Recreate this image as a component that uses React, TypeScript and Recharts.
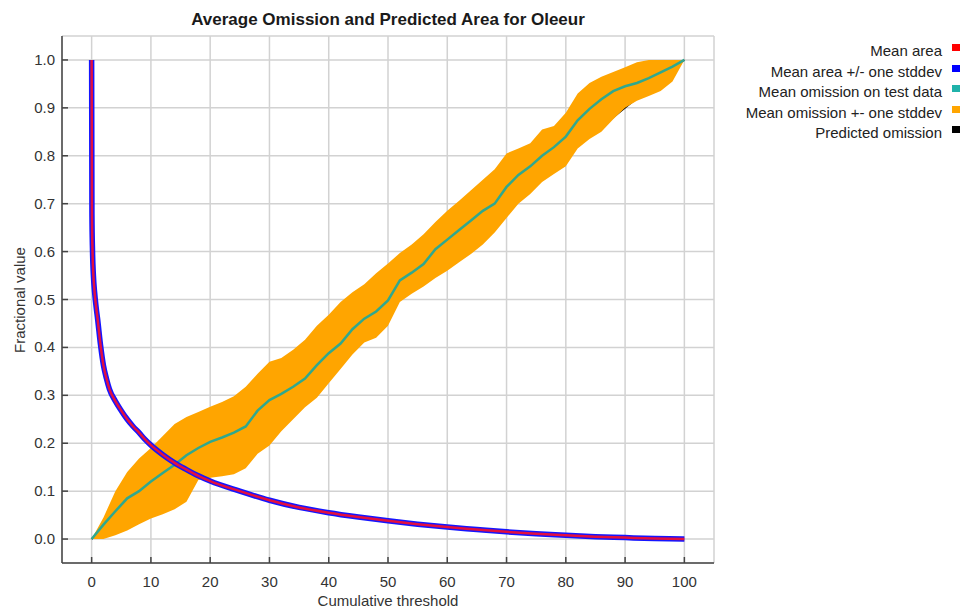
import React from "react";
import { ComposedChart, Line, Area, XAxis, YAxis, CartesianGrid } from "recharts";

const xTicks = [0, 10, 20, 30, 40, 50, 60, 70, 80, 90, 100];
const yTicks = [0, 0.1, 0.2, 0.3, 0.4, 0.5, 0.6, 0.7, 0.8, 0.9, 1.0];

// mean predicted area vs cumulative threshold
const areaThresholds = [
  0, 0.05, 0.15, 0.3, 0.5, 0.75, 1, 1.5, 2, 2.5, 3, 4, 5, 6, 7, 8, 9, 10, 12, 14, 16, 18, 20,
  25, 30, 35, 40, 45, 50, 55, 60, 65, 70, 75, 80, 85, 90, 95, 100,
];
const meanArea = [
  1.0, 0.68, 0.6, 0.55, 0.515, 0.485, 0.46, 0.405, 0.362, 0.335, 0.313, 0.288, 0.268, 0.25,
  0.235, 0.222, 0.208, 0.196, 0.176, 0.159, 0.145, 0.132, 0.121, 0.1, 0.081, 0.066, 0.055,
  0.046, 0.038, 0.031, 0.025, 0.02, 0.015, 0.011, 0.008, 0.005, 0.003, 0.001, 0,
];

// omission on test data, every 2 units of threshold
const omissionThresholds = [
  0, 2, 4, 6, 8, 10, 12, 14, 16, 18, 20, 22, 24, 26, 28, 30, 32, 34, 36, 38, 40, 42, 44, 46,
  48, 50, 52, 54, 56, 58, 60, 62, 64, 66, 68, 70, 72, 74, 76, 78, 80, 82, 84, 86, 88, 90, 92,
  94, 96, 98, 100,
];
const meanOmission = [
  0, 0.03, 0.058, 0.085, 0.1, 0.12, 0.138, 0.155, 0.175, 0.19, 0.203, 0.212, 0.222, 0.235,
  0.268, 0.29, 0.303, 0.318, 0.335, 0.363, 0.388, 0.408, 0.438, 0.46, 0.475, 0.498, 0.54,
  0.556, 0.574, 0.605, 0.625, 0.645, 0.665, 0.685, 0.7, 0.735, 0.76, 0.778, 0.8, 0.818, 0.84,
  0.874, 0.898, 0.918, 0.935, 0.945, 0.952, 0.962, 0.974, 0.986, 1,
];
const omissionHigh = [
  0, 0.045, 0.1, 0.14, 0.168, 0.19, 0.215, 0.24, 0.255, 0.265, 0.276, 0.286, 0.298, 0.318,
  0.345, 0.37, 0.378, 0.395, 0.416, 0.445, 0.468, 0.495, 0.515, 0.532, 0.555, 0.575, 0.597,
  0.615, 0.636, 0.662, 0.685, 0.706, 0.728, 0.75, 0.772, 0.805, 0.815, 0.826, 0.855, 0.862,
  0.89, 0.93, 0.952, 0.965, 0.975, 0.985, 0.995, 1, 1, 1, 1,
];
const omissionLow = [
  0, 0, 0.008, 0.018, 0.031, 0.043, 0.052, 0.062, 0.078, 0.123, 0.128, 0.131, 0.135, 0.148,
  0.178, 0.195, 0.225, 0.25, 0.275, 0.295, 0.325, 0.355, 0.385, 0.41, 0.42, 0.445, 0.495,
  0.512, 0.527, 0.545, 0.56, 0.578, 0.595, 0.615, 0.64, 0.67, 0.7, 0.72, 0.745, 0.762, 0.778,
  0.815, 0.835, 0.85, 0.876, 0.9, 0.915, 0.925, 0.935, 0.955, 1,
];

const predictedThresholds = [0, 100];
const predictedOmission = [0, 1];

const legendLabels = [
  "Mean area",
  "Mean area +/- one stddev",
  "Mean omission on test data",
  "Mean omission +- one stddev",
  "Predicted omission",
];
const legendColors = ["#ff0000", "#0000ff", "#20b2aa", "#ffa500", "#000000"];

const AXIS = "#444";
const TEXT = "#333";
const FONT = "'Liberation Sans', Arial, sans-serif";

type Row = {
  x: number;
  area?: number;
  omission?: number;
  band?: [number, number];
  predicted?: number;
};

const rowMap = new Map<number, Row>();
function at(x: number) {
  let r = rowMap.get(x);
  if (!r) {
    r = { x };
    rowMap.set(x, r);
  }
  return r;
}
areaThresholds.forEach((x, i) => (at(x).area = meanArea[i]));
omissionThresholds.forEach((x, i) => {
  at(x).omission = meanOmission[i];
  at(x).band = [omissionLow[i], omissionHigh[i]];
});
predictedThresholds.forEach((x, i) => (at(x).predicted = predictedOmission[i]));
const rows = [...rowMap.values()].sort((a, b) => a.x - b.x);

function BottomTick({ x, y, payload }: any) {
  return (
    <g>
      <line x1={x} x2={x} y1={y} y2={y - 6} stroke={AXIS} strokeWidth={1.5} />
      <text x={x} y={y + 24} textAnchor="middle" fill={TEXT} fontSize={15} fontFamily={FONT}>
        {payload.value}
      </text>
    </g>
  );
}

function TopTick({ x, y }: any) {
  return <line x1={x} x2={x} y1={y} y2={y + 6} stroke={AXIS} strokeWidth={1.5} />;
}

function LeftTick({ x, y, payload }: any) {
  return (
    <g>
      <line x1={x} x2={x + 6} y1={y} y2={y} stroke={AXIS} strokeWidth={1.5} />
      <text x={x - 7} y={y + 5} textAnchor="end" fill={TEXT} fontSize={15} fontFamily={FONT}>
        {Number(payload.value).toFixed(1)}
      </text>
    </g>
  );
}

function RightTick({ x, y }: any) {
  return <line x1={x} x2={x - 6} y1={y} y2={y} stroke={AXIS} strokeWidth={1.5} />;
}

export default function App() {
  return (
    <div style={{ position: "absolute", left: 0, top: 0, width: 961, height: 609, background: "#fff", fontFamily: FONT }}>
      <div
        style={{
          position: "absolute",
          left: 62,
          width: 652,
          top: 11,
          textAlign: "center",
          fontSize: 17,
          lineHeight: "18px",
          fontWeight: "bold",
          color: "#1a1a1a",
        }}
      >
        Average Omission and Predicted Area for Oleeur
      </div>

      <ComposedChart
        width={961}
        height={609}
        data={rows}
        margin={{ top: 36, right: 247, bottom: 0, left: 0 }}
      >
        <CartesianGrid stroke="#d2d2d2" strokeWidth={1.5} />
        <XAxis
          dataKey="x"
          type="number"
          domain={[-5, 105]}
          ticks={xTicks}
          interval={0}
          height={46}
          tickSize={0}
          tickMargin={0}
          tickLine={false}
          tick={<BottomTick />}
          axisLine={{ stroke: AXIS, strokeWidth: 1.5 }}
          allowDataOverflow
        />
        <XAxis
          xAxisId="top"
          orientation="top"
          dataKey="x"
          type="number"
          domain={[-5, 105]}
          ticks={xTicks}
          interval={0}
          height={0}
          tickSize={0}
          tickMargin={0}
          tickLine={false}
          tick={<TopTick />}
          axisLine={{ stroke: AXIS, strokeWidth: 1.5 }}
          allowDataOverflow
        />
        <YAxis
          type="number"
          domain={[-0.05, 1.05]}
          ticks={yTicks}
          interval={0}
          width={62}
          tickSize={0}
          tickMargin={0}
          tickLine={false}
          tick={<LeftTick />}
          axisLine={{ stroke: AXIS, strokeWidth: 1.5 }}
          allowDataOverflow
        />
        <YAxis
          yAxisId="right"
          orientation="right"
          type="number"
          domain={[-0.05, 1.05]}
          ticks={yTicks}
          interval={0}
          width={0}
          tickSize={0}
          tickMargin={0}
          tickLine={false}
          tick={<RightTick />}
          axisLine={{ stroke: AXIS, strokeWidth: 1.5 }}
          allowDataOverflow
        />

        {/* predicted omission drawn as an unfilled Area so it stays under the band */}
        <Area
          dataKey="predicted"
          type="linear"
          stroke="#000"
          strokeWidth={1.5}
          fill="none"
          connectNulls
          isAnimationActive={false}
        />
        <Area
          dataKey="band"
          type="linear"
          stroke="none"
          fill="#ffa500"
          fillOpacity={1}
          connectNulls
          isAnimationActive={false}
        />
        <Line
          dataKey="omission"
          stroke="#30a88e"
          strokeWidth={2.5}
          dot={false}
          connectNulls
          isAnimationActive={false}
        />
        <Line
          dataKey="area"
          type="monotone"
          stroke="#1515ff"
          strokeWidth={5.5}
          dot={false}
          connectNulls
          isAnimationActive={false}
        />
        <Line
          dataKey="area"
          type="monotone"
          stroke="#e3103f"
          strokeWidth={2.5}
          dot={false}
          connectNulls
          isAnimationActive={false}
        />
      </ComposedChart>

      <div
        style={{
          position: "absolute",
          left: 19,
          top: 300,
          transform: "translate(-50%, -50%) rotate(-90deg)",
          whiteSpace: "nowrap",
          fontSize: 15,
          color: TEXT,
        }}
      >
        Fractional value
      </div>
      <div
        style={{
          position: "absolute",
          left: 62,
          width: 652,
          top: 593,
          textAlign: "center",
          fontSize: 15,
          lineHeight: "16px",
          color: TEXT,
        }}
      >
        Cumulative threshold
      </div>

      {legendLabels.map((label, i) => (
        <div key={label}>
          <div
            style={{
              position: "absolute",
              right: 961 - 942,
              top: 42 + i * 20.5,
              fontSize: 15,
              lineHeight: "17px",
              color: "#222",
              whiteSpace: "nowrap",
            }}
          >
            {label}
          </div>
          <div
            style={{
              position: "absolute",
              left: 952,
              top: 44 + i * 20.5,
              width: 8,
              height: 7,
              background: legendColors[i],
            }}
          />
        </div>
      ))}
    </div>
  );
}
